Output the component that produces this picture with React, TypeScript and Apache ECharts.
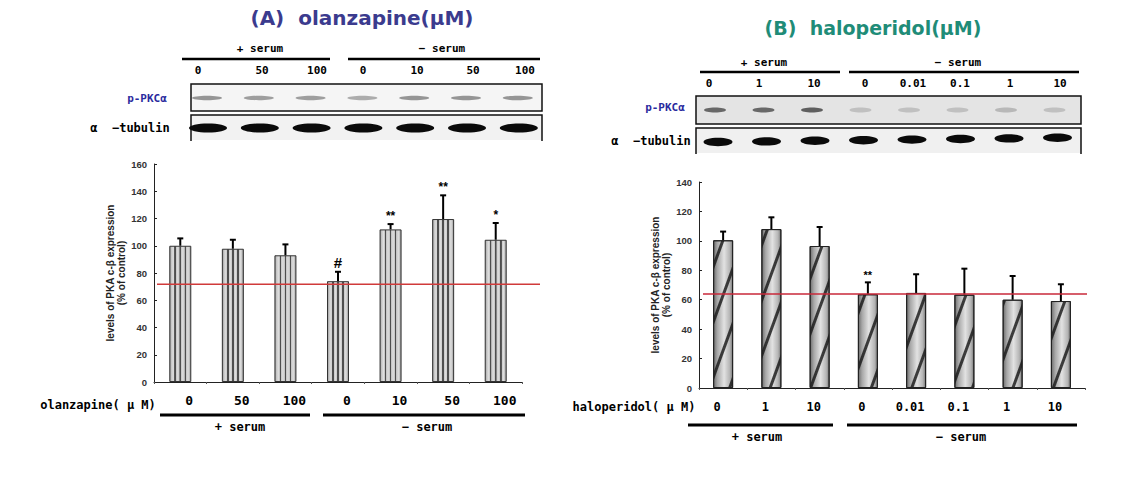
import React, { useEffect, useRef } from "react";
import * as echarts from "echarts";

// ---------- data ----------
const catsA = ["0", "50", "100", "0", "10", "50", "100"];
const valsA = [100, 97.8, 93, 74, 112, 119.6, 104.4];
const errA = [105.4, 104.4, 101, 80.9, 115.9, 137, 116.7];
const sigA = ["", "", "", "#", "**", "**", "*"];
const refA = 71.8;
const yTicksA = { min: 0, max: 160, interval: 20 };

const catsB = ["0", "1", "10", "0", "0.01", "0.1", "1", "10"];
const valsB = [100.4, 108, 96.5, 63.7, 64.6, 63.4, 60, 59.1];
const errB = [106.3, 116, 109.4, 71.8, 77.3, 81.1, 76.1, 70.5];
const sigB = ["", "", "", "**", "", "", "", ""];
const refB = 63.9;
const yTicksB = { min: 0, max: 140, interval: 20 };

const titleA = "(A)  olanzapine(μM)";
const titleB = "(B)  haloperidol(μM)";
const yName = "levels of PKA c-β expression\n(% of control)";
const xNameA = "olanzapine( μ M)";
const xNameB = "haloperidol( μ M)";
const plusSerum = "+ serum";
const minusSerum = "− serum";
const blotTop = "p-PKCα";
const blotBottom = "α  −tubulin";

// blot band intensities (image-like decoration)
const pkcA = [0.6, 0.55, 0.55, 0.45, 0.6, 0.6, 0.6];
const pkcB = [0.7, 0.7, 0.75, 0.2, 0.2, 0.2, 0.25, 0.2];

const MONO = '"DejaVu Sans Mono"';
const SANS = '"Liberation Sans"';

function stripeGradient() {
  const base = "#c4c4c4";
  const light = "#dedede";
  const dark = "#4e4e4e";
  const stops: any[] = [];
  const lines = [0.26, 0.5, 0.74];
  stops.push({ offset: 0, color: "#8a8a8a" });
  stops.push({ offset: 0.07, color: base });
  let last = 0.07;
  lines.forEach((p) => {
    stops.push({ offset: (last + p) / 2, color: light });
    stops.push({ offset: p - 0.04, color: base });
    stops.push({ offset: p - 0.035, color: dark });
    stops.push({ offset: p + 0.035, color: dark });
    stops.push({ offset: p + 0.04, color: base });
    last = p;
  });
  stops.push({ offset: 0.87, color: light });
  stops.push({ offset: 0.93, color: base });
  stops.push({ offset: 1, color: "#8a8a8a" });
  return new echarts.graphic.LinearGradient(0, 0, 1, 0, stops);
}

function cylGradient() {
  return new echarts.graphic.LinearGradient(0, 0, 1, 0, [
    { offset: 0, color: "#6e6e6e" },
    { offset: 0.2, color: "#a8a8a8" },
    { offset: 0.55, color: "#e2e2e2" },
    { offset: 0.85, color: "#b5b5b5" },
    { offset: 1, color: "#7a7a7a" },
  ]);
}

function errRender(sig: string[], sigFont: string[]) {
  return (params: any, api: any) => {
    const i = api.value(0);
    const p0 = api.coord([i, api.value(1)]);
    const p1 = api.coord([i, api.value(2)]);
    const children: any[] = [
      { type: "line", shape: { x1: p0[0], y1: p0[1], x2: p1[0], y2: p1[1] }, style: { stroke: "#000", lineWidth: 2 } },
      { type: "line", shape: { x1: p1[0] - 3, y1: p1[1], x2: p1[0] + 3, y2: p1[1] }, style: { stroke: "#000", lineWidth: 2 } },
    ];
    const s = sig[params.dataIndex];
    if (s) {
      children.push({
        type: "text",
        style: {
          text: s,
          x: p1[0],
          y: p1[1] - 2,
          align: "center",
          verticalAlign: "bottom",
          font: sigFont[params.dataIndex] || "bold 12px " + SANS,
          fill: "#000",
        },
      });
    }
    return { type: "group", children };
  };
}

function txt(x: number, y: number, text: string, font: string, fill = "#000", align = "center") {
  return {
    type: "text",
    x,
    y,
    silent: true,
    style: { text, font, fill, align, verticalAlign: "middle", textAlign: align, textVerticalAlign: "middle" },
  };
}
function hline(x1: number, x2: number, y: number, w: number, color = "#000") {
  return { type: "line", silent: true, shape: { x1, y1: y, x2, y2: y }, style: { stroke: color, lineWidth: w } };
}

export default function App() {
  const ref = useRef<HTMLDivElement>(null);
  useEffect(() => {
    document.body.style.margin = "0";
    const chart = echarts.init(ref.current!, null, { renderer: "svg" });

    const yAxisCommon = {
      type: "value",
      splitLine: { show: false },
      axisLine: { show: true, lineStyle: { color: "#222", width: 1 } },
      axisTick: { show: true, inside: true, length: 3, lineStyle: { color: "#222" } },
      axisLabel: { fontSize: 9.5, fontWeight: "bold", color: "#333", fontFamily: SANS, margin: 7 },
      name: yName,
      nameLocation: "middle",
      nameRotate: 90,
      nameTextStyle: { fontSize: 10, fontWeight: "bold", fontFamily: SANS, color: "#222", lineHeight: 11 },
    };
    const xAxisCommon = {
      type: "category",
      axisLine: { show: true, lineStyle: { color: "#222", width: 1 } },
      axisTick: { show: true, length: 2, lineStyle: { color: "#555" } },
      axisLabel: { fontSize: 13, fontWeight: "bold", color: "#000", fontFamily: MONO, interval: 0 },
    };

    chart.setOption({
      animation: false,
      backgroundColor: "#fff",
      grid: [
        { left: 154, top: 164, width: 368, height: 218 },
        { left: 699, top: 182, width: 386, height: 206 },
      ],
      xAxis: [
        { ...xAxisCommon, gridIndex: 0, data: catsA, axisLabel: { ...xAxisCommon.axisLabel, margin: 12, padding: [0, 0, 0, 18] } },
        { ...xAxisCommon, gridIndex: 1, data: catsB, axisLabel: { ...xAxisCommon.axisLabel, fontSize: 12, margin: 13, padding: [0, 12, 0, 0] } },
      ],
      yAxis: [
        { ...yAxisCommon, gridIndex: 0, ...yTicksA, nameGap: 24 },
        { ...yAxisCommon, gridIndex: 1, ...yTicksB, nameGap: 26 },
      ],
      series: [
        {
          type: "bar",
          xAxisIndex: 0,
          yAxisIndex: 0,
          data: valsA,
          barWidth: 22,
          itemStyle: { color: stripeGradient(), borderColor: "#333", borderWidth: 1 },
        },
        {
          type: "custom",
          xAxisIndex: 0,
          yAxisIndex: 0,
          data: errA.map((e, i) => [i, valsA[i], e]),
          encode: { x: 0, y: [1, 2] },
          renderItem: errRender(sigA, sigA.map((s) => (s === "#" ? "bold 15px " + SANS : "bold 12px " + SANS))),
          z: 5,
        },
        {
          type: "bar",
          xAxisIndex: 1,
          yAxisIndex: 1,
          data: valsB,
          barWidth: 20,
          itemStyle: {
            color: cylGradient(),
            borderColor: "#222",
            borderWidth: 1,
            decal: {
              symbol: "rect",
              symbolSize: 1,
              color: "rgba(20,20,20,0.8)",
              dashArrayX: [1, 0],
              dashArrayY: [2.5, 16],
              rotation: -1.22,
            },
          },
        },
        {
          type: "custom",
          xAxisIndex: 1,
          yAxisIndex: 1,
          data: errB.map((e, i) => [i, valsB[i], e]),
          encode: { x: 0, y: [1, 2] },
          renderItem: errRender(sigB, sigB.map(() => "bold 11px " + SANS)),
          z: 5,
        },
      ],
    });

    const ya = chart.convertToPixel({ gridIndex: 0 }, [0, refA])[1];
    const yb = chart.convertToPixel({ gridIndex: 1 }, [0, refB])[1];

    const g: any[] = [];
    // titles
    g.push(txt(362, 18, titleA, "bold 20px \"DejaVu Sans\"", "#3b3b8e"));
    g.push(txt(873, 28, titleB, "bold 19px \"DejaVu Sans\"", "#1f8c78"));

    // ---- blot A ----
    const lanesA = catsA.map((_, i) => 207 + i * 51.8);
    const labelXA = [198, 262, 317, 363, 417, 473, 525];
    g.push(txt(260, 48, plusSerum, "bold 11px " + MONO));
    g.push(txt(442, 48, minusSerum, "bold 11px " + MONO));
    g.push(hline(182, 330, 59, 2.5));
    g.push(hline(348, 540, 59, 2.5));
    catsA.forEach((c, i) => g.push(txt(labelXA[i], 70, c, "bold 11px " + MONO)));
    g.push({ type: "rect", silent: true, shape: { x: 191, y: 84, width: 351, height: 27 }, style: { fill: "#f5f5f5", stroke: "#111", lineWidth: 1.5 } });
    g.push({ type: "rect", silent: true, shape: { x: 191, y: 115, width: 351, height: 25 }, style: { fill: "#f2f2f2" } });
    g.push({ type: "polyline", silent: true, shape: { points: [[191, 141], [191, 115], [542, 115], [542, 141]] }, style: { stroke: "#111", lineWidth: 1.5, fill: "none" } });
    lanesA.forEach((x, i) => {
      g.push({ type: "ellipse", silent: true, shape: { cx: x, cy: 98, rx: 15, ry: 2.2 }, style: { fill: "#555", opacity: pkcA[i] } });
      g.push({ type: "ellipse", silent: true, shape: { cx: x + 1, cy: 128, rx: 19, ry: 4.5 }, style: { fill: "#0a0a0a" } });
    });
    g.push(txt(147, 98, blotTop, "bold 11px " + MONO, "#2b2b9e"));
    g.push(txt(130, 128, blotBottom, "bold 12px " + MONO));

    // ---- blot B ----
    const lanesB = catsB.map((_, i) => 718 + i * 48.5);
    const labelXB = [709, 759, 814, 865, 913, 960, 1010, 1060];
    g.push(txt(764, 62, plusSerum, "bold 11px " + MONO));
    g.push(txt(958, 62, minusSerum, "bold 11px " + MONO));
    g.push(hline(700, 840, 72, 2.5));
    g.push(hline(849, 1079, 72, 2.5));
    catsB.forEach((c, i) => g.push(txt(labelXB[i], 83, c, "bold 11px " + MONO)));
    g.push({ type: "rect", silent: true, shape: { x: 696, y: 96, width: 385, height: 28 }, style: { fill: "#e4e4e4", stroke: "#111", lineWidth: 1.5 } });
    g.push({ type: "rect", silent: true, shape: { x: 696, y: 128, width: 385, height: 25 }, style: { fill: "#f0f0f0" } });
    g.push({ type: "polyline", silent: true, shape: { points: [[696, 154], [696, 128], [1081, 128], [1081, 154]] }, style: { stroke: "#111", lineWidth: 1.5, fill: "none" } });
    lanesB.forEach((x, i) => {
      g.push({ type: "ellipse", silent: true, shape: { cx: x - 3, cy: 110, rx: 11, ry: 2.5 }, style: { fill: "#333", opacity: pkcB[i] } });
      g.push({ type: "ellipse", silent: true, shape: { cx: x, cy: 142 - i * 0.6, rx: 14.5, ry: 4.2 }, style: { fill: "#0a0a0a" } });
    });
    g.push(txt(665, 107, blotTop, "bold 11px " + MONO, "#2b2b9e"));
    g.push(txt(651, 141, blotBottom, "bold 12px " + MONO));

    // ---- chart annotations ----
    g.push({ type: "line", silent: true, z: 10, shape: { x1: 157, y1: ya, x2: 540, y2: ya }, style: { stroke: "#d03a3a", lineWidth: 1.5 } });
    g.push({ type: "line", silent: true, z: 10, shape: { x1: 703, y1: yb, x2: 1087, y2: yb }, style: { stroke: "#c8283a", lineWidth: 1.5 } });

    g.push(txt(98, 405, xNameA, "bold 12px " + MONO, "#000"));
    g.push(hline(160, 310, 415, 3));
    g.push(hline(323, 525, 415, 3));
    g.push(txt(240, 427, plusSerum, "bold 12px " + MONO));
    g.push(txt(427, 427, minusSerum, "bold 12px " + MONO));

    g.push(txt(634, 407, xNameB, "bold 12px " + MONO, "#000"));
    g.push(hline(688, 833, 425, 3));
    g.push(hline(847, 1077, 425, 3));
    g.push(txt(757, 437, plusSerum, "bold 12px " + MONO));
    g.push(txt(961, 437, minusSerum, "bold 12px " + MONO));

    chart.setOption({ graphic: g });

    return () => chart.dispose();
  }, []);
  return <div ref={ref} style={{ width: 1129, height: 482 }} />;
}
